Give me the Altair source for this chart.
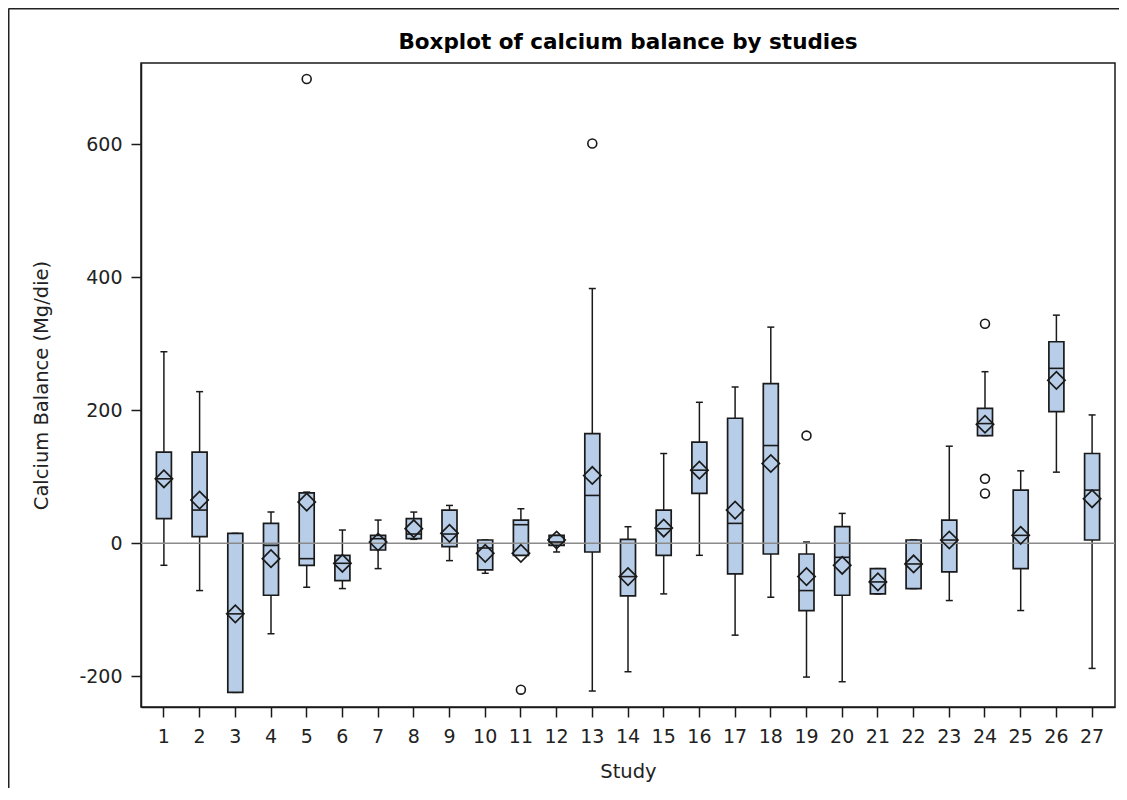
import altair as alt
import pandas as pd

studies = list(range(1, 28))
whisker_low = [-33, -71, -224, -136, -66, -68, -38, 6, -26, -45, -18, -13, -222, -193, -76, -18, -138, -81, -201, -208, -76, -68, -86, 162, -101, 107, -188]
q1 = [37, 10, -224, -78, -33, -56, -10, 7, -5, -40, -18, -3, -13, -79, -18, 75, -46, -16, -101, -78, -76, -68, -43, 162, -38, 198, 5]
median = [97, 50, -106, -3, -23, -30, 7, 14, 14, -7, 28, 2, 72, -50, 22, 110, 30, 147, -71, -21, -58, -31, 5, 180, 12, 263, 80]
q3 = [137, 137, 15, 30, 76, -18, 12, 37, 50, 5, 35, 12, 165, 6, 50, 152, 188, 240, -16, 25, -38, 5, 35, 203, 80, 303, 135]
whisker_high = [288, 228, 15, 47, 77, 20, 35, 47, 57, 5, 52, 12, 383, 25, 135, 212, 235, 325, 2, 45, -38, 5, 146, 258, 109, 343, 193]
mean = [97, 65, -106, -23, 62, -30, 2, 22, 15, -15, -15, 5, 102, -50, 23, 110, 50, 120, -50, -33, -58, -31, 5, 179, 12, 245, 67]

outlier_study = [5, 11, 13, 19, 24, 24, 24]
outlier_value = [698, -220, 601, 162, 330, 97, 75]

title_text = "Boxplot of calcium balance by studies"

df = pd.DataFrame({
    "study": studies, "lo": whisker_low, "q1": q1, "med": median,
    "q3": q3, "hi": whisker_high, "mean": mean,
})
out = pd.DataFrame({"study": outlier_study, "val": outlier_value})
zero = pd.DataFrame({"y": [0]})

FONT = "DejaVu Sans"
INK = "#1a1a1a"

xscale = alt.Scale(paddingInner=0, paddingOuter=0.1415)
yscale = alt.Scale(domain=[-246, 722], nice=False, zero=False)

X = alt.X("study:O", scale=xscale,
          axis=alt.Axis(title="Study", labelAngle=0, titlePadding=16))
Y_axis = alt.Axis(title="Calcium Balance (Mg/die)", values=[-200, 0, 200, 400, 600],
                  grid=False, titlePadding=27, labelExpr="'' + datum.value")

base = alt.Chart(df)

whiskers = base.mark_rule(color=INK, strokeWidth=1.5).encode(
    x=X, y=alt.Y("lo:Q", scale=yscale, axis=Y_axis), y2="hi:Q")
cap_lo = base.mark_tick(color=INK, size=7, thickness=1.5, opacity=1).encode(x=X, y="lo:Q")
cap_hi = base.mark_tick(color=INK, size=7, thickness=1.5, opacity=1).encode(x=X, y="hi:Q")
boxes = base.mark_bar(size=15, fill="#B8CEE8", stroke=INK, strokeWidth=1.7).encode(
    x=X, y="q1:Q", y2="q3:Q")
zline = alt.Chart(zero).mark_rule(color="#8a8a8a", strokeWidth=1.5).encode(y="y:Q")
medians = base.mark_tick(color=INK, size=15, thickness=1.6, opacity=1).encode(x=X, y="med:Q")
means = base.mark_point(shape="diamond", size=300, filled=False, color=INK,
                        strokeWidth=1.7, opacity=1).encode(x=X, y="mean:Q")
outliers = alt.Chart(out).mark_point(shape="circle", size=80, filled=False, color=INK,
                                     strokeWidth=1.6, opacity=1).encode(
    x=alt.X("study:O", scale=xscale), y=alt.Y("val:Q"))

title_mark = alt.Chart(zero).mark_text(
    font=FONT, fontSize=21.5, fontWeight="bold", color="#000",
    align="center", baseline="alphabetic",
).encode(x=alt.value(487), y=alt.value(-13.7), text=alt.value(title_text))

border_top = alt.Chart(zero).mark_rule(color="#222", strokeWidth=2).encode(
    x=alt.value(-132.5), x2=alt.value(1000), y=alt.value(-54.5))
border_left = alt.Chart(zero).mark_rule(color="#222", strokeWidth=2).encode(
    x=alt.value(-132.5), y=alt.value(-54.5), y2=alt.value(800))

chart = alt.layer(
    whiskers, cap_lo, cap_hi, boxes, zline, medians, means, outliers,
    title_mark, border_top, border_left,
).properties(
    width=974, height=644,
    autosize=alt.AutoSizeParams(type="none"),
    padding={"left": 133, "top": 55, "right": 4, "bottom": 81},
).configure_view(
    stroke=INK, strokeWidth=1.5,
).configure_axis(
    labelFont=FONT, labelFontSize=19, labelColor="#222",
    titleFont=FONT, titleFontSize=19.5, titleColor="#222", titleFontWeight="normal",
    domainColor=INK, domainWidth=1.5, tickColor=INK, tickWidth=1.5, tickSize=10,
    labelPadding=10, grid=False,
).configure_axisY(labelPadding=9)

chart.save("out.html", embed_options={"renderer": "svg", "actions": False})
